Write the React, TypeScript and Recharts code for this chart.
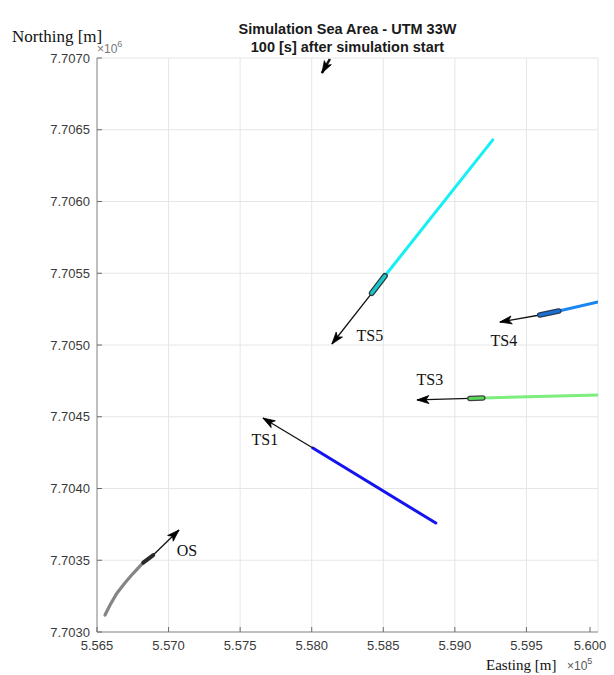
import React from 'react';
import { ScatterChart, Scatter, XAxis, YAxis, CartesianGrid } from 'recharts';

// Axis ticks (meters, UTM 33W)
const xTicks = [556500, 557000, 557500, 558000, 558500, 559000, 559500, 560000];
const yTicks = [7703000, 7703500, 7704000, 7704500, 7705000, 7705500, 7706000, 7706500, 7707000];

// Own ship track (gray), ship body, heading arrow
const osTrack = [
  { x: 556556, y: 7703118 },
  { x: 556591, y: 7703188 },
  { x: 556638, y: 7703269 },
  { x: 556696, y: 7703343 },
  { x: 556753, y: 7703409 },
  { x: 556823, y: 7703483 },
];
const osShip = [
  { x: 556823, y: 7703483 },
  { x: 556893, y: 7703536 },
];
const osArrow = [
  { x: 556893, y: 7703536 },
  { x: 557073, y: 7703711 },
];

// Target ship 1 (blue)
const ts1Track = [
  { x: 558867, y: 7703759 },
  { x: 558008, y: 7704282 },
];
const ts1Arrow = [
  { x: 558008, y: 7704282 },
  { x: 557659, y: 7704491 },
];

// Target ship 2 (only arrow visible at top)
const ts2Arrow = [
  { x: 558127, y: 7706993 },
  { x: 558071, y: 7706895 },
];

// Target ship 3 (light green)
const ts3Track = [
  { x: 560000, y: 7704651 },
  { x: 559195, y: 7704631 },
];
const ts3Ship = [
  { x: 559195, y: 7704631 },
  { x: 559105, y: 7704628 },
];
const ts3Arrow = [
  { x: 559105, y: 7704628 },
  { x: 558735, y: 7704617 },
];

// Target ship 4 (dodger blue)
const ts4Track = [
  { x: 560000, y: 7705300 },
  { x: 559726, y: 7705237 },
];
const ts4Ship = [
  { x: 559726, y: 7705237 },
  { x: 559593, y: 7705209 },
];
const ts4Arrow = [
  { x: 559593, y: 7705209 },
  { x: 559314, y: 7705160 },
];

// Target ship 5 (cyan)
const ts5Track = [
  { x: 559265, y: 7706429 },
  { x: 558511, y: 7705481 },
];
const ts5Ship = [
  { x: 558511, y: 7705481 },
  { x: 558420, y: 7705362 },
];
const ts5Arrow = [
  { x: 558420, y: 7705362 },
  { x: 558141, y: 7705007 },
];

// Ship name labels
const shipLabels = [
  { x: 558406, y: 7705063, name: 'TS5' },
  { x: 559342, y: 7705028, name: 'TS4' },
  { x: 558825, y: 7704756, name: 'TS3' },
  { x: 557673, y: 7704338, name: 'TS1' },
  { x: 557128, y: 7703564, name: 'OS' },
];

const arrows = [osArrow, ts1Arrow, ts2Arrow, ts3Arrow, ts4Arrow, ts5Arrow];
const arrowHeads = arrows.map((a) => {
  const s = a[a.length - 2];
  const e = a[a.length - 1];
  return { x: e.x, y: e.y, dx: e.x - s.x, dy: e.y - s.y };
});

const none = () => <g />;

const ArrowHead = (props: any) => {
  const { cx, cy, payload } = props;
  if (cx == null || cy == null) return <g />;
  const ang = Math.atan2(-payload.dy, payload.dx);
  const L = 12;
  const W = 4;
  const c = Math.cos(ang);
  const s = Math.sin(ang);
  const bx = cx - L * c;
  const by = cy - L * s;
  const px = -s;
  const py = c;
  const mx = cx - 0.75 * L * c;
  const my = cy - 0.75 * L * s;
  const pts = `${cx},${cy} ${bx + W * px},${by + W * py} ${mx},${my} ${bx - W * px},${by - W * py}`;
  return <polygon points={pts} fill="#000" stroke="#000" strokeWidth={0.8} />;
};

const LabelShape = (props: any) => {
  const { cx, cy, payload } = props;
  return (
    <text
      x={cx}
      y={cy}
      dy={5}
      textAnchor="middle"
      fontFamily="'Liberation Serif', 'Times New Roman', serif"
      fontSize={16}
      fill="#111"
    >
      {payload.name}
    </text>
  );
};

const TICK_COLOR = '#6b6b6b';
const AXIS_COLOR = '#8a8a8a';
const LABEL_COLOR = '#3a3a3a';
const XM = 4;
const YM = 7;

const XTick = (props: any) => {
  const { x, y, payload } = props;
  const ay = y - XM;
  return (
    <g>
      <line x1={x} x2={x} y1={ay} y2={ay - 5} stroke={TICK_COLOR} strokeWidth={1} />
      <text x={x} y={y} dy={14} textAnchor="middle" fontFamily="'Liberation Sans', Arial, sans-serif" fontSize={13} fill={LABEL_COLOR}>
        {(payload.value / 1e5).toFixed(3)}
      </text>
    </g>
  );
};

const YTick = (props: any) => {
  const { x, y, payload } = props;
  const ax = x + YM;
  return (
    <g>
      <line x1={ax} x2={ax + 5} y1={y} y2={y} stroke={TICK_COLOR} strokeWidth={1} />
      <text x={x} y={y} dy={4.5} textAnchor="end" fontFamily="'Liberation Sans', Arial, sans-serif" fontSize={13} fill={LABEL_COLOR}>
        {(payload.value / 1e6).toFixed(4)}
      </text>
    </g>
  );
};

const trackLine = (color: string, w: number) => ({ stroke: color, strokeWidth: w, strokeLinecap: 'round' as const, fill: 'none' });

export default function App() {
  return (
    <div style={{ position: 'absolute', left: 0, top: 0, width: 614, height: 675, background: '#fff' }}>
      <ScatterChart width={614} height={675} margin={{ top: 58, right: 16, bottom: 13, left: 37 }}>
        <CartesianGrid stroke="#e6e6e6" strokeWidth={1} />
        <XAxis
          type="number"
          dataKey="x"
          domain={[556500, 560000]}
          ticks={xTicks}
          allowDataOverflow
          height={30}
          tickSize={0}
          tickMargin={XM}
          tick={<XTick />}
          axisLine={{ stroke: AXIS_COLOR, strokeWidth: 1 }}
          tickLine={false}
        />
        <YAxis
          type="number"
          dataKey="y"
          domain={[7703000, 7707000]}
          ticks={yTicks}
          allowDataOverflow
          width={60}
          tickSize={0}
          tickMargin={YM}
          tick={<YTick />}
          axisLine={{ stroke: AXIS_COLOR, strokeWidth: 1 }}
          tickLine={false}
        />
        {/* tracks */}
        <Scatter data={osTrack} line={trackLine('#858585', 3.2)} shape={none} isAnimationActive={false} />
        <Scatter data={ts1Track} line={trackLine('#1414f0', 3)} shape={none} isAnimationActive={false} />
        <Scatter data={ts3Track} line={trackLine('#7ded7d', 3)} shape={none} isAnimationActive={false} />
        <Scatter data={ts4Track} line={trackLine('#1a86f2', 3)} shape={none} isAnimationActive={false} />
        <Scatter data={ts5Track} line={trackLine('#16f0f4', 3)} shape={none} isAnimationActive={false} />
        {/* arrows (heading vectors) */}
        {arrows.map((a, i) => (
          <Scatter key={'a' + i} data={a} line={{ stroke: '#111', strokeWidth: i === 2 ? 2.5 : 1.3, fill: 'none' }} shape={none} isAnimationActive={false} />
        ))}
        {/* ship bodies */}
        <Scatter data={osShip} line={trackLine('#2a2a2a', 4)} shape={none} isAnimationActive={false} />
        <Scatter data={ts3Ship} line={trackLine('#404040', 5.5)} shape={none} isAnimationActive={false} />
        <Scatter data={ts3Ship} line={trackLine('#5ad85a', 3)} shape={none} isAnimationActive={false} />
        <Scatter data={ts4Ship} line={trackLine('#2a3a55', 5.5)} shape={none} isAnimationActive={false} />
        <Scatter data={ts4Ship} line={trackLine('#1a70d0', 3)} shape={none} isAnimationActive={false} />
        <Scatter data={ts5Ship} line={trackLine('#2a3a3a', 6)} shape={none} isAnimationActive={false} />
        <Scatter data={ts5Ship} line={trackLine('#18c8cc', 3.5)} shape={none} isAnimationActive={false} />
        <Scatter data={arrowHeads} shape={<ArrowHead />} isAnimationActive={false} />
        <Scatter data={shipLabels} shape={<LabelShape />} isAnimationActive={false} />
      </ScatterChart>
      <svg width={614} height={675} style={{ position: 'absolute', left: 0, top: 0, pointerEvents: 'none' }}>
        <text x={347.5} y={34} textAnchor="middle" fontFamily="'Liberation Sans', Arial, sans-serif" fontWeight="bold" fontSize={14.5} fill="#1a1a1a">
          Simulation Sea Area - UTM 33W
        </text>
        <text x={347.5} y={52} textAnchor="middle" fontFamily="'Liberation Sans', Arial, sans-serif" fontWeight="bold" fontSize={14.5} fill="#1a1a1a">
          100 [s] after simulation start
        </text>
        <text x={12} y={42} fontFamily="'Liberation Serif', 'Times New Roman', serif" fontSize={17} fill="#111">
          Northing [m]
        </text>
        <text x={97} y={53} fontFamily="'Liberation Sans', Arial, sans-serif" fontSize={12} fill="#777">
          ×10<tspan dy={-6} fontSize={9}>6</tspan>
        </text>
        <text x={486} y={670} fontFamily="'Liberation Serif', 'Times New Roman', serif" fontSize={15} fill="#111">
          Easting [m]
        </text>
        <text x={567} y={670} fontFamily="'Liberation Sans', Arial, sans-serif" fontSize={12} fill="#555">
          ×10<tspan dy={-6} fontSize={9}>5</tspan>
        </text>
      </svg>
    </div>
  );
}
